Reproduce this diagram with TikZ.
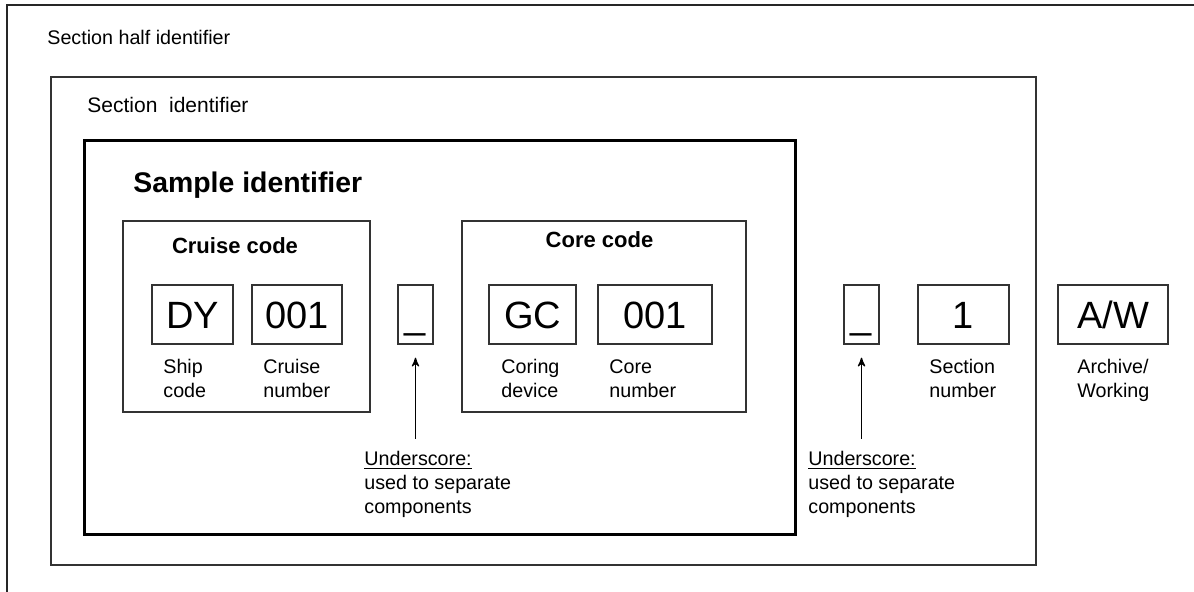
\documentclass[tikz,border=0pt]{standalone}
\usepackage{fontspec}
\setmainfont{Liberation Sans}
\usetikzlibrary{arrows,positioning}
\tikzset{id box/.style={rectangle,draw=black!80,line width=0.65pt,inner sep=0pt},
         code box/.style={id box,minimum height=29.5pt,font=\fontsize{19}{22}\selectfont,text height=13.6pt,text depth=0pt},
         part label/.style={rectangle,draw=none,inner sep=0pt,align=left,font=\fontsize{9.85}{12}\selectfont},
         group label/.style={rectangle,draw=none,inner sep=0pt,font=\fontsize{11}{13}\selectfont\bfseries},
         title label/.style={rectangle,draw=none,inner sep=0pt,anchor=base west}
}

\begin{document}
\begin{tikzpicture}[->,>=stealth',
x=0.5pt, y=-0.5pt]
\useasboundingbox (0,0) rectangle (1194,592);
% outer frame (section half)
\draw[-,line width=1pt,black!85] (7,600) |- (1200,5);
\node[title label,font=\fontsize{9.85}{12}\selectfont] (halftitle) at (47,45) {Section half identifier};

% section and sample frames
\node[id box,minimum width=492.5pt,minimum height=244pt] (section) at (543.5,321) {};
\node[title label,font=\fontsize{10.5}{12}\selectfont] (sectiontitle) at (87,113) {Section~ identifier};
\node[id box,draw=black,line width=1.5pt,minimum width=355.5pt,minimum height=197pt] (sample) at (439.5,338) {};
\node[title label,font=\fontsize{14.2}{16}\selectfont\bfseries] (sampletitle) at (133,193) {Sample identifier};

% cruise code
\node[id box,minimum width=123.5pt,minimum height=95.5pt] (cruise) at (246.5,316.5) {};
\node[group label,anchor=base] (cruisetitle) at (235,254) {Cruise code};
\node[code box,minimum width=40.5pt] (ship) at (192.5,314.5) {DY};
\node[code box,minimum width=45pt] (cruiseno) at (297,314.5) {001};
\node[part label,anchor=north west] (shiplbl) at (163,359) {Ship\\code};
\node[part label,anchor=north west] (cruisenolbl) at (263,359) {Cruise\\number};

% first underscore
\node[code box,minimum width=17.5pt] (usA) at (415.5,314.5) {\_};

% core code
\node[id box,minimum width=142pt,minimum height=95.5pt] (core) at (604,316.5) {};
\node[group label,anchor=base] (coretitle) at (599.5,248) {Core code};
\node[code box,minimum width=43.5pt] (device) at (532.5,314.5) {GC};
\node[code box,minimum width=57pt] (coreno) at (655,314.5) {001};
\node[part label,anchor=north west] (devicelbl) at (501,359) {Coring\\device};
\node[part label,anchor=north west] (corenolbl) at (609,359) {Core\\number};

% second underscore, section, half
\node[code box,minimum width=17.5pt] (usB) at (861.5,314.5) {\_};
\node[code box,minimum width=45.5pt] (secno) at (963.5,314.5) {1};
\node[code box,minimum width=55pt] (half) at (1113,314.5) {A/W};
\node[part label,anchor=north west] (secnolbl) at (929,359) {Section\\number};
\node[part label,anchor=north west] (halflbl) at (1077,359) {Archive/\\Working};

% notes
\node[part label,anchor=north west] (noteA) at (364,451) {\underline{Underscore:}\\used to separate\\components};
\node[part label,anchor=north west] (noteB) at (808,451) {\underline{Underscore:}\\used to separate\\components};
\coordinate (tailA) at (415.5,439);
\coordinate (tailB) at (861.5,439);
\draw[line width=0.65pt] (tailA) -- ([yshift=-6.5pt]usA.south);
\draw[line width=0.65pt] (tailB) -- ([yshift=-6.5pt]usB.south);
\end{tikzpicture}
\end{document}
